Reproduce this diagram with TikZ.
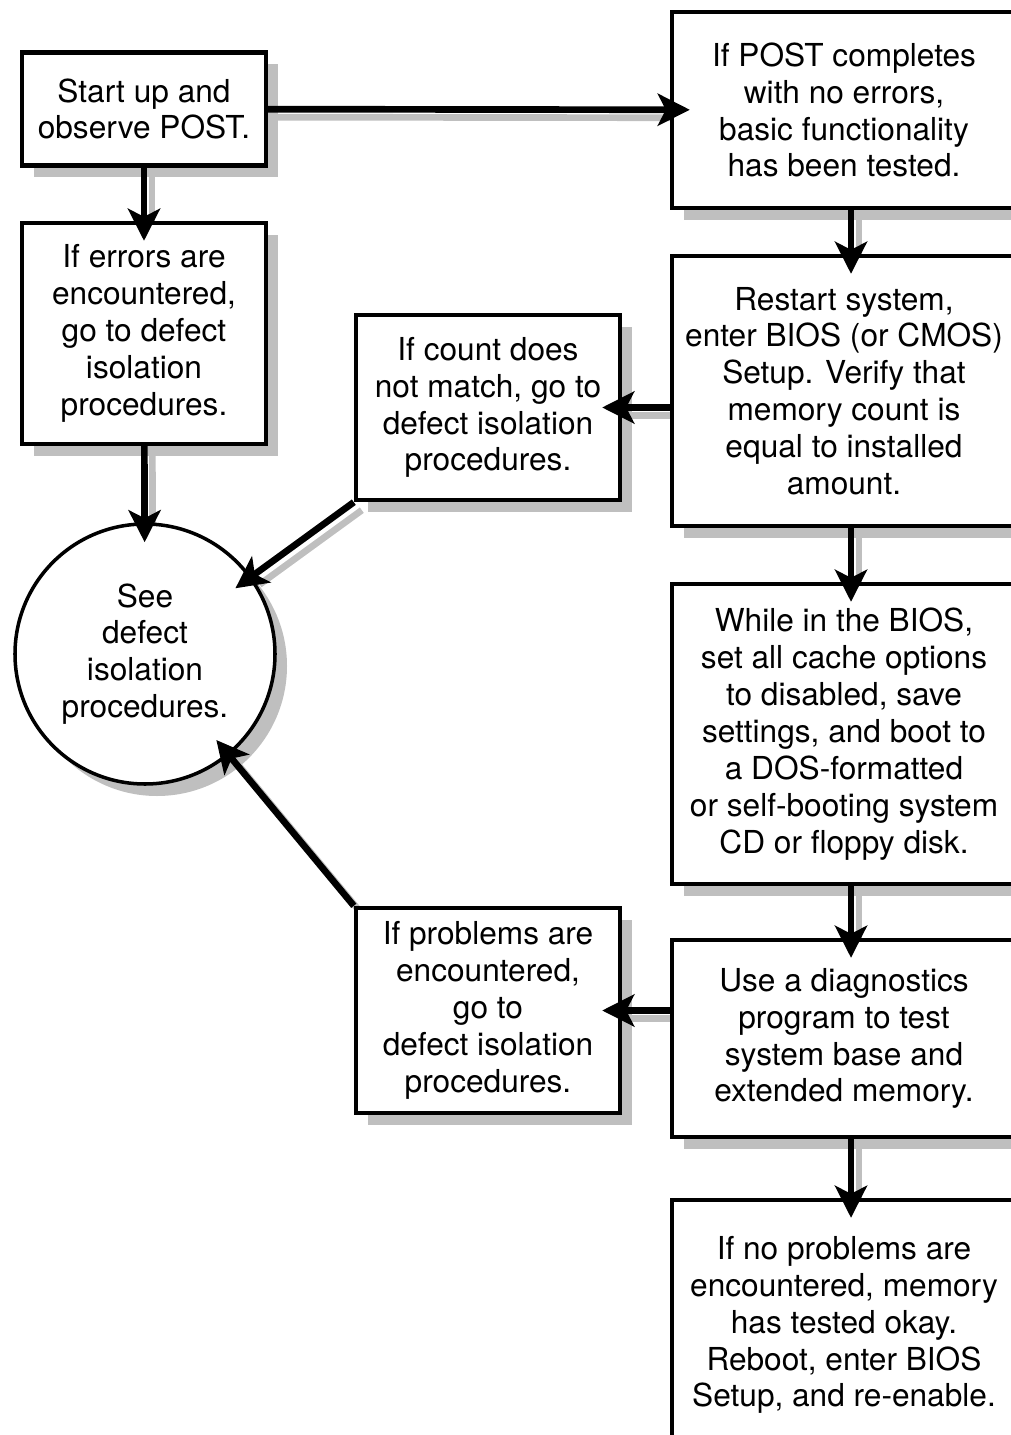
\documentclass[tikz,border=0pt]{standalone}
\usepackage{fontspec}
\setmainfont{TeX Gyre Heros}
\usetikzlibrary{positioning, arrows.meta, shapes.geometric, backgrounds, calc, shadows}
\tikzset{
    shade/.style={drop shadow={shadow xshift=0.12cm, shadow yshift=-0.12cm, fill=gray!50, opacity=1}},
    stepbox/.style={rectangle, draw=black, fill=white, line width=1.25pt, inner sep=0pt, align=center, font=\fontsize{9}{10.5}\selectfont, shade},
    leftbox/.style={stepbox, minimum width=2.44cm},
    midbox/.style={stepbox, minimum width=2.64cm},
    rightbox/.style={stepbox, minimum width=3.44cm},
    endcircle/.style={circle, draw=black, fill=white, line width=1pt, inner sep=0pt, minimum size=2.6cm, align=center, font=\fontsize{9}{10.5}\selectfont, shade},
    arr/.style={-{Stealth[length=0.32cm, width=0.32cm, inset=0.08cm]}, line width=1.9pt, shorten >=-0.2cm},
    arrshade/.style={line width=1.9pt, draw=gray!50}
}

\begin{document}
\begin{tikzpicture}
    \useasboundingbox (0,0) rectangle (10.11,-14.35);

    \node[leftbox, minimum height=1.13cm] (start) at (1.44,-1.09) {Start up and\\observe POST.};
    \node[rightbox, minimum height=1.96cm] (post) at (8.44,-1.10) {If POST completes\\with no errors,\\basic functionality\\has been tested.};
    \node[leftbox, minimum height=2.21cm] (errors) at (1.44,-3.335) {If errors are\\encountered,\\go to defect\\isolation\\procedures.};
    \node[endcircle] (defect) at (1.45,-6.54) {See\\defect\\isolation\\procedures.};
    \node[midbox, minimum height=1.85cm] (count) at (4.88,-4.075) {If count does\\not match, go to\\defect isolation\\procedures.};
    \node[rightbox, minimum height=2.70cm] (restart) at (8.44,-3.91) {Restart system,\\enter BIOS (or CMOS)\\Setup. Verify that\\memory count is\\equal to installed\\amount.};
    \node[rightbox, minimum height=3.00cm] (cache) at (8.44,-7.34) {While in the BIOS,\\set all cache options\\to disabled, save\\settings, and boot to\\a DOS-formatted\\or self-booting system\\CD or floppy disk.};
    \node[rightbox, minimum height=1.97cm] (diag) at (8.44,-10.385) {Use a diagnostics\\program to test\\system base and\\extended memory.};
    \node[midbox, minimum height=2.05cm] (problems) at (4.88,-10.105) {If problems are\\encountered,\\go to\\defect isolation\\procedures.};
    \node[rightbox, minimum height=2.50cm] (okay) at (8.44,-13.25) {If no problems are\\encountered, memory\\has tested okay.\\Reboot, enter BIOS\\Setup, and re-enable.};

    % shadows of the connectors
    \begin{scope}[on background layer]
    \begin{scope}[transform canvas={shift={(0.08,-0.08)}}]
        \draw[arrshade] (start) -- (post);
        \draw[arrshade] (start) -- (errors);
        \draw[arrshade] (errors) -- (defect);
        \draw[arrshade] ([xshift=0.07cm]post.south) -- ([xshift=0.07cm]restart.north);
        \draw[arrshade] (restart.west |- count.east) -- (count.east);
        \draw[arrshade] (count.south west) -- (defect);
        \draw[arrshade] ([xshift=0.07cm]restart.south) -- ([xshift=0.07cm]cache.north);
        \draw[arrshade] ([xshift=0.07cm]cache.south) -- ([xshift=0.07cm]diag.north);
        \draw[arrshade] (diag.west |- problems.east) -- (problems.east);
        \draw[arrshade] (problems.north west) -- (defect);
        \draw[arrshade] ([xshift=0.07cm]diag.south) -- ([xshift=0.07cm]okay.north);
    \end{scope}
    \end{scope}

    \draw[arr] (start) -- (post);
    \draw[arr] (start) -- (errors);
    \draw[arr] (errors) -- (defect);
    \draw[arr] ([xshift=0.07cm]post.south) -- ([xshift=0.07cm]restart.north);
    \draw[arr] (restart.west |- count.east) -- (count.east);
    \draw[arr] (count.south west) -- (defect);
    \draw[arr] ([xshift=0.07cm]restart.south) -- ([xshift=0.07cm]cache.north);
    \draw[arr] ([xshift=0.07cm]cache.south) -- ([xshift=0.07cm]diag.north);
    \draw[arr] (diag.west |- problems.east) -- (problems.east);
    \draw[arr] (problems.north west) -- (defect);
    \draw[arr] ([xshift=0.07cm]diag.south) -- ([xshift=0.07cm]okay.north);
\end{tikzpicture}
\end{document}
